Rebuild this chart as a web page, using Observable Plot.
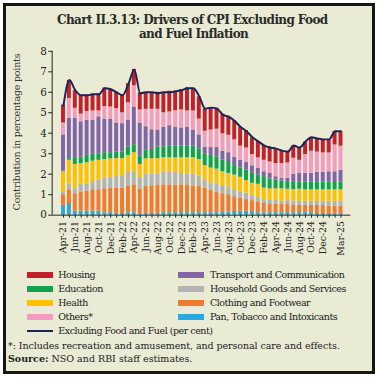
<!DOCTYPE html>
<html><head><meta charset="utf-8">
<script src="https://cdn.jsdelivr.net/npm/d3@7"></script>
<script src="https://cdn.jsdelivr.net/npm/@observablehq/plot@0.6"></script>
<style>
html,body{margin:0;padding:0;background:#fff;}
#box{position:absolute;left:3px;top:3px;width:366px;height:365px;border:3px solid #161616;background:#e9ebd4;overflow:hidden;font-family:"DejaVu Serif",serif;color:#222;}
.t{position:absolute;white-space:nowrap;}
.title{font-weight:bold;font-size:12px;line-height:14px;color:#2a2a2a;}
#chart{position:absolute;left:-6px;top:34px;}
#ylab{position:absolute;left:-74px;top:120px;width:170px;text-align:center;transform:rotate(-90deg);font-size:9.5px;line-height:12px;color:#333;white-space:nowrap;}
.leg{font-size:9.5px;line-height:12px;color:#222;}
.sw{position:absolute;width:26px;height:6px;}
.note{font-size:9.5px;line-height:12px;color:#222;}
</style></head>
<body><div id="box">
<div id="t1" class="t title">Chart II.3.13: Drivers of CPI Excluding Food</div>
<div id="t2" class="t title">and Fuel Inflation</div>
<div id="chart"></div>
<div id="ylab"><span id="ylabt">Contribution in percentage points</span></div>
<div id="legend"></div>
<div id="n1" class="t note" style="left:2px;top:333.7px">*: Includes recreation and amusement, and personal care and effects.</div>
<div id="n2" class="t note" style="left:2px;top:347.3px"><b>Source:</b> NSO and RBI staff estimates.</div>
</div>
<script>
const months = ["Apr-21","May-21","Jun-21","Jul-21","Aug-21","Sep-21","Oct-21","Nov-21","Dec-21","Jan-22","Feb-22","Mar-22","Apr-22","May-22","Jun-22","Jul-22","Aug-22","Sep-22","Oct-22","Nov-22","Dec-22","Jan-23","Feb-23","Mar-23","Apr-23","May-23","Jun-23","Jul-23","Aug-23","Sep-23","Oct-23","Nov-23","Dec-23","Jan-24","Feb-24","Mar-24","Apr-24","May-24","Jun-24","Jul-24","Aug-24","Sep-24","Oct-24","Nov-24","Dec-24","Jan-25","Feb-25","Mar-25"];
const tickLabels = ["Apr-21","Jun-21","Aug-21","Oct-21","Dec-21","Feb-22","Apr-22","Jun-22","Aug-22","Oct-22","Dec-22","Feb-23","Apr-23","Jun-23","Aug-23","Oct-23","Dec-23","Feb-24","Apr-24","Jun-24","Aug-24","Oct-24","Dec-24","Mar-25"];
const yTicks = [0,1,2,3,4,5,6,7,8];

const pan = [.48,.57,.20,.20,.20,.20,.20,.12,.12,.10,.08,.12,.12,.04,.10,.09,.09,.12,.12,.12,.12,.12,.12,.12,.12,.12,.12,.14,.15,.18,.20,.20,.17,.12,.12,.12,.12,.12,.12,.12,.12,.12,.12,.09,.09,.09,.09,.07];
const clothing = [.52,.67,.85,.93,.98,1.04,1.04,1.17,1.18,1.22,1.24,1.31,1.36,1.23,1.33,1.34,1.39,1.36,1.36,1.35,1.36,1.36,1.31,1.28,1.20,1.08,.98,.91,.85,.72,.64,.56,.54,.53,.45,.40,.40,.40,.40,.38,.37,.37,.37,.38,.38,.35,.35,.37];
const household = [.16,.29,.24,.38,.33,.40,.48,.51,.55,.56,.61,.66,.64,.57,.57,.58,.53,.64,.61,.61,.56,.53,.57,.52,.38,.38,.42,.40,.38,.35,.29,.32,.24,.22,.19,.21,.21,.16,.19,.20,.19,.19,.19,.21,.21,.24,.24,.24];
const health = [.96,1.15,1.19,1.00,1.05,1.00,.96,.92,.90,.88,.83,.83,.93,.64,.75,.75,.75,.69,.72,.72,.77,.80,.81,.80,.72,.72,.73,.67,.66,.71,.72,.61,.61,.64,.56,.56,.56,.61,.56,.55,.59,.56,.56,.56,.56,.56,.56,.56];
const education = [.03,.08,.33,.32,.36,.33,.32,.33,.30,.32,.32,.41,.39,.40,.42,.45,.57,.52,.56,.57,.56,.56,.56,.52,.58,.62,.60,.58,.58,.46,.46,.51,.48,.45,.56,.48,.43,.38,.37,.35,.34,.37,.37,.37,.37,.37,.40,.37];
const transport = [1.77,1.98,1.93,1.73,1.72,1.67,1.80,1.64,1.64,1.42,1.39,1.31,1.84,1.62,1.15,.96,.83,.96,1.00,.91,.89,.92,.79,.68,.32,.38,.45,.42,.43,.40,.37,.37,.37,.32,.24,.27,.16,.13,.16,.40,.43,.43,.43,.48,.48,.51,.48,.59];
const others = [.58,.96,.48,.38,.42,.45,.29,.61,.59,.70,.53,.85,1.04,.64,.85,1.00,1.01,.71,.67,.82,.88,.80,.93,.77,.78,.86,.90,.85,.85,.86,.69,.71,.55,.52,.56,.56,.64,.72,.75,.78,.64,.92,1.08,.99,.95,.92,1.31,1.17];
const housing = [.88,.88,.86,.92,.80,.82,.83,.91,.87,.80,.87,.93,.80,.83,.83,.80,.83,1.00,1.01,.95,.99,1.13,1.11,1.09,1.08,1.09,1.02,.96,.93,.93,.92,.85,.81,.80,.73,.73,.73,.61,.57,.62,.60,.61,.65,.65,.61,.61,.66,.71];
const exclFoodFuel = [5.35,6.6,6.1,5.85,5.85,5.9,5.9,6.2,6.15,6.0,5.85,6.4,7.1,5.95,6.0,6.0,5.95,6.0,6.0,6.05,6.1,6.2,6.2,5.8,5.2,5.25,5.2,4.9,4.8,4.6,4.3,4.1,3.8,3.6,3.4,3.3,3.25,3.15,3.1,3.4,3.3,3.6,3.8,3.75,3.7,3.7,4.1,4.1];

const seriesNames = ["Pan, Tobacco and Intoxicants","Clothing and Footwear","Household Goods and Services","Health","Education","Transport and Communication","Others*","Housing"];
const seriesValues = [pan, clothing, household, health, education, transport, others, housing];
const seriesColors = ["#2aa8e0","#ee7b30","#b3b3b3","#ffc000","#0ea34c","#8165a8","#f39cc3","#c2202c"];
const lineName = "Excluding Food and Fuel (per cent)";
const lineColor = "#1e2556";

const bars = [];
seriesNames.forEach((s, i) => months.forEach((m, j) => bars.push({month: m, series: s, value: seriesValues[i][j]})));
const linePts = months.map((m, j) => ({month: m, value: exclFoodFuel[j]}));

const chart = Plot.plot({
  width: 378, height: 222,
  marginLeft: 53, marginRight: 22, marginTop: 11, marginBottom: 44.5,
  style: {background: "transparent", fontFamily: "DejaVu Serif", fontSize: "10px", color: "#222"},
  x: {domain: months, paddingInner: 0.4, paddingOuter: 0.3, label: null},
  y: {domain: [0, 8], label: null},
  color: {domain: seriesNames, range: seriesColors},
  marks: [
    Plot.barY(bars, {x: "month", y: "value", fill: "series"}),
    Plot.lineY(linePts, {x: "month", y: "value", stroke: lineColor, strokeWidth: 2, curve: "monotone-x"}),
    Plot.ruleY([0], {stroke: "#222", strokeWidth: 1}),
    Plot.axisY({ticks: yTicks, tickSize: 4, tickPadding: 2, label: null, fontSize: 10.5, stroke: "#222"}),
    Plot.axisX({ticks: months, tickSize: 3, tickPadding: 3, tickRotate: -90, label: null, fontSize: 9.5,
      tickFormat: d => tickLabels.includes(d) ? d : "", stroke: "#222"})
  ]
});
document.getElementById("chart").appendChild(chart);
const ys = chart.scale("y");
d3.select(chart).append("line")
  .attr("x1", 53).attr("x2", 53)
  .attr("y1", ys.apply(8)).attr("y2", ys.apply(0))
  .attr("stroke", "#222").attr("stroke-width", 1);

// legend
const legendOrder = [
  ["Housing", 0, 0], ["Transport and Communication", 1, 0],
  ["Education", 0, 1], ["Household Goods and Services", 1, 1],
  ["Health", 0, 2], ["Clothing and Footwear", 1, 2],
  ["Others*", 0, 3], ["Pan, Tobacco and Intoxicants", 1, 3]
];
const leg = document.getElementById("legend");
const colX = [20.7, 172.3], rowC = 269, rowH = 13.9;
const legTexts = [];
legendOrder.forEach(([name, c, r]) => {
  const col = seriesColors[seriesNames.indexOf(name)];
  const sw = document.createElement("div");
  sw.className = "sw"; sw.style.background = col;
  sw.style.left = colX[c] + "px"; sw.style.top = (rowC + r * rowH - 3) + "px";
  leg.appendChild(sw);
  const t = document.createElement("div");
  t.className = "t leg"; t.textContent = name;
  t.style.left = (colX[c] + 31.6) + "px"; t.style.top = (rowC + r * rowH - 6) + "px";
  leg.appendChild(t);
  legTexts.push(t);
});
const ls = document.createElement("div");
ls.className = "sw"; ls.style.height = "2px"; ls.style.background = lineColor;
ls.style.left = colX[0] + "px"; ls.style.top = (rowC + 4 * rowH - 1) + "px";
leg.appendChild(ls);
const lt = document.createElement("div");
lt.className = "t leg"; lt.textContent = lineName;
lt.style.left = (colX[0] + 31.6) + "px"; lt.style.top = (rowC + 4 * rowH - 6) + "px";
leg.appendChild(lt);
legTexts.push(lt);

// fit text widths to the reference (offsetWidth ignores transforms)
function fit(el, target) {
  el.style.letterSpacing = "0px";
  const w = el.offsetWidth;
  const n = el.textContent.length;
  const ls = (target - w) / n;
  el.style.letterSpacing = ls + "px";
  return ls;
}
const t1 = document.getElementById("t1"), t2 = document.getElementById("t2");
fit(t1, 271); fit(t2, 108);
t1.style.left = (57 - 6) + "px"; t1.style.top = (20 - 6 - 7) + "px";
t2.style.left = (139 - 6) + "px"; t2.style.top = (33.5 - 6 - 7) + "px";
fit(document.getElementById("n1"), 331);
fit(document.getElementById("n2"), 184);
fit(document.getElementById("ylabt"), 157);
const lsp = fit(legTexts[1], 135);
legTexts.forEach((t, i) => { if (i !== 1) t.style.letterSpacing = lsp + "px"; });
</script>
</body></html>
